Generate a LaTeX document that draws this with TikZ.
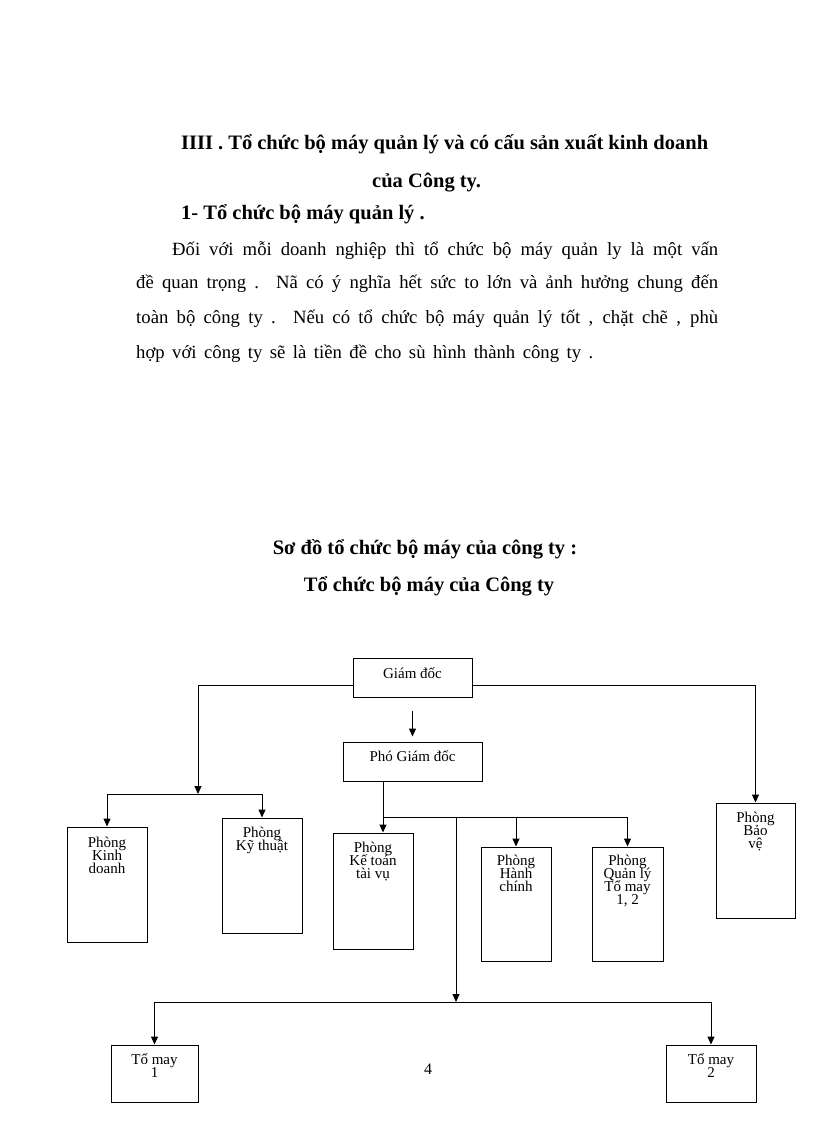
\documentclass[tikz,border=0pt]{standalone}
\usepackage{fontspec}
\setmainfont{Liberation Serif}
\usetikzlibrary{positioning,arrows.meta}

\newcommand{\boxfont}{\fontsize{15}{13}\selectfont\lineskiplimit-20pt\relax}

\begin{document}
\begin{tikzpicture}[x=1pt, y=-1pt,
    box/.style={rectangle, draw, line width=1pt, inner sep=0pt},
    boxtext/.style={align=center, inner sep=0pt, font=\boxfont},
    arrow/.style={-{Triangle[length=8pt,width=7pt]}, line width=1pt},
    line/.style={line width=1pt},
    body/.style={anchor=base west, inner sep=0pt, font=\fontsize{18.7}{22}\selectfont},
    heading/.style={anchor=base west, inner sep=0pt, font=\fontsize{20.5}{24}\selectfont\bfseries}
]
    \useasboundingbox (0,0) rectangle (816,1123);

    % Text above the chart
    \node[heading] (h1) at (181,150) {\makebox[527pt][s]{IIII . Tổ chức bộ máy quản  lý và có cấu sản xuất kinh  doanh}};
    \node[heading] (h2) at (372,188) {của Công ty.};
    \node[heading] (h3) at (181,220) {1- Tổ chức bộ máy quản  lý .};
    \node[body] (p1) at (172,255) {\makebox[546pt][s]{Đối với mỗi doanh nghiệp thì tổ chức bộ máy  quản ly là một vấn}};
    \node[body] (p2) at (136,288) {\makebox[582pt][s]{đề quan trọng . Nã có ý nghĩa hết sức to lớn và ảnh hưởng chung đến}};
    \node[body] (p3) at (136,323) {\makebox[582pt][s]{toàn bộ công ty . Nếu có tổ chức bộ máy quản lý tốt , chặt chẽ , phù}};
    \node[body] (p4) at (136,358) {\makebox[457pt][s]{hợp với công ty sẽ là tiền đề cho sù hình thành công ty .}};

    % Chart titles
    \node[heading, anchor=base] (t1) at (425,554) {Sơ đồ tổ chức bộ máy của công ty :};
    \node[heading, anchor=base] (t2) at (429,591) {Tổ chức bộ máy của Công ty};

    % Boxes
    \node[box, minimum width=119pt, minimum height=39pt] (gd) at (412.5,677.5) {};
    \node[box, minimum width=139pt, minimum height=39pt] (pgd) at (412.5,761.5) {};
    \node[box, minimum width=80pt, minimum height=115pt] (kinhdoanh) at (107,884.5) {};
    \node[box, minimum width=80pt, minimum height=115pt] (kythuat) at (262,875.5) {};
    \node[box, minimum width=80pt, minimum height=116pt] (ketoan) at (373,891) {};
    \node[box, minimum width=70pt, minimum height=114pt] (hanhchinh) at (516,904) {};
    \node[box, minimum width=71pt, minimum height=114pt] (quanly) at (627.5,904) {};
    \node[box, minimum width=79pt, minimum height=115pt] (baove) at (755.5,860.5) {};
    \node[box, minimum width=87pt, minimum height=57pt] (tomay1) at (154.5,1073.5) {};
    \node[box, minimum width=90pt, minimum height=57pt] (tomay2) at (711,1073.5) {};

    % Box texts
    \node[boxtext, below=10pt of gd.north] {Giám đốc};
    \node[boxtext, below=9pt of pgd.north] {Phó Giám đốc};
    \node[boxtext, below=10pt of kinhdoanh.north] {Phòng\\Kinh\\doanh};
    \node[boxtext, below=9pt of kythuat.north] {Phòng\\Kỹ thuật};
    \node[boxtext, below=9pt of ketoan.north] {Phòng\\Kế toán\\tài vụ};
    \node[boxtext, below=8pt of hanhchinh.north] {Phòng\\Hành\\chính};
    \node[boxtext, below=8pt of quanly.north] {Phòng\\Quản lý\\Tổ may\\1, 2};
    \node[boxtext, below=9pt of baove.north] {Phòng\\Bảo\\vệ};
    \node[boxtext, below=9pt of tomay1.north] {Tổ may\\1};
    \node[boxtext, below=9pt of tomay2.north] {Tổ may\\2};

    % Page number
    \node[inner sep=0pt, anchor=base, font=\fontsize{16}{18}\selectfont] (page) at (428,1074) {4};

    % Branch points
    \coordinate (leftbar) at (198,794);
    \coordinate (midbar) at (383,817);
    \coordinate (trunk) at (456,817);
    \coordinate (lowbar) at (456,1002);

    % Connectors
    \draw[arrow] ([yshift=-7.5pt]gd.west) -| (leftbar);
    \draw[arrow] (leftbar) -| (kinhdoanh.north);
    \draw[arrow] (leftbar) -| (kythuat.north);
    \draw[arrow] ([yshift=-7.5pt]gd.east) -| (baove.north);
    \draw[arrow] ([yshift=-13pt]gd.south) -- ([yshift=5pt]pgd.north);
    \draw[line] (pgd.south -| midbar) -- (midbar);
    \draw[arrow] (midbar) -- (midbar |- ketoan.north);
    \draw[arrow] (midbar) -| (hanhchinh.north);
    \draw[arrow] (midbar) -| (quanly.north);
    \draw[arrow] (trunk) -- (lowbar);
    \draw[arrow] (lowbar) -| (tomay1.north);
    \draw[arrow] (lowbar) -| (tomay2.north);
\end{tikzpicture}
\end{document}
